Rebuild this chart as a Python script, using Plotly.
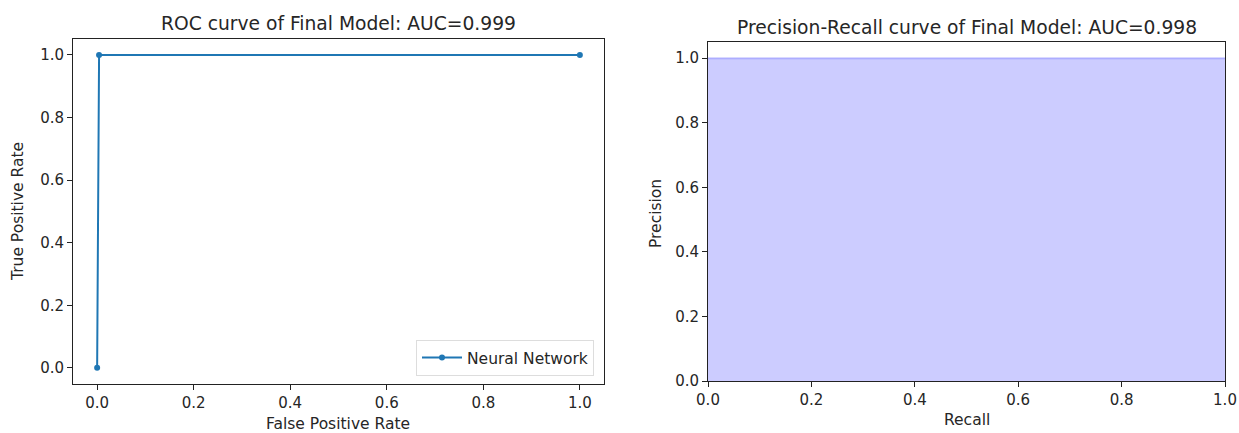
import plotly.graph_objects as go

# ROC data
fpr = [0.0, 0.004, 1.0]
tpr = [0.0, 1.0, 1.0]
# Precision-Recall data
recall = [0.0, 0.5, 1.0]
precision = [1.0, 1.0, 1.0]

roc_title = "ROC curve of Final Model: AUC=0.999"
pr_title = "Precision-Recall curve of Final Model: AUC=0.998"
tickvals = [0.0, 0.2, 0.4, 0.6, 0.8, 1.0]
ticktext = ["0.0", "0.2", "0.4", "0.6", "0.8", "1.0"]

W, H = 1239, 433
FONT = "DejaVu Sans"
TXT = "#262626"
FS = 15

def px(x):
    return x / W

def py(y):
    return 1 - y / H

fig = go.Figure()
fig.add_trace(go.Scatter(
    x=fpr, y=tpr, mode="lines+markers", name="Neural Network",
    line=dict(color="#1f77b4", width=2), marker=dict(size=6, color="#1f77b4"),
    xaxis="x", yaxis="y", showlegend=True))
fig.add_trace(go.Scatter(
    x=recall, y=precision, mode="lines", line_shape="hv", fill="tozeroy",
    fillcolor="rgba(0,0,255,0.2)", line=dict(color="rgba(0,0,255,0.2)", width=2),
    xaxis="x2", yaxis="y2", showlegend=False))

axis_common = dict(
    showline=True, mirror=True, linecolor="#222", linewidth=1,
    ticks="outside", ticklen=5, tickcolor="#222", tickwidth=1,
    showgrid=False, zeroline=False, tickvals=tickvals, ticktext=ticktext,
    tickfont=dict(family=FONT, size=FS, color=TXT), automargin=False,
)

fig.update_layout(
    template="none",
    width=W, height=H,
    margin=dict(l=0, r=0, t=0, b=0),
    paper_bgcolor="white", plot_bgcolor="white",
    font=dict(family=FONT, size=FS, color=TXT),
    xaxis=dict(domain=[px(73), px(604)], range=[-0.05, 1.05], anchor="y", **axis_common),
    yaxis=dict(domain=[py(383.5), py(39.3)], range=[-0.05, 1.05], anchor="x", **axis_common),
    xaxis2=dict(domain=[px(708), px(1225)], range=[0, 1], anchor="y2", **axis_common),
    yaxis2=dict(domain=[py(381), py(42)], range=[0, 1.05], anchor="x2", **axis_common),
    legend=dict(x=px(594), y=py(376), xanchor="right", yanchor="bottom",
                bordercolor="#dddddd", borderwidth=1, bgcolor="white",
                font=dict(family=FONT, size=15.5, color=TXT),
                itemwidth=40, tracegroupgap=0),
    showlegend=True,
)

ann = [
    dict(text=roc_title, x=px(338), y=py(23), size=18.7, angle=0),
    dict(text=pr_title, x=px(966.5), y=py(27), size=18.7, angle=0),
    dict(text="False Positive Rate", x=px(338), y=py(424), size=15.5, angle=0),
    dict(text="True Positive Rate", x=px(18), y=py(212), size=15.5, angle=-90),
    dict(text="Precision", x=px(656), y=py(214), size=15.5, angle=-90),
    dict(text="Recall", x=px(966.5), y=py(420), size=15.5, angle=0),
]
for a in ann:
    fig.add_annotation(text=a["text"], x=a["x"], y=a["y"], xref="paper", yref="paper",
                       xanchor="center", yanchor="middle", showarrow=False,
                       textangle=a["angle"],
                       font=dict(family=FONT, size=a["size"], color=TXT))

fig.write_html("out.html")
